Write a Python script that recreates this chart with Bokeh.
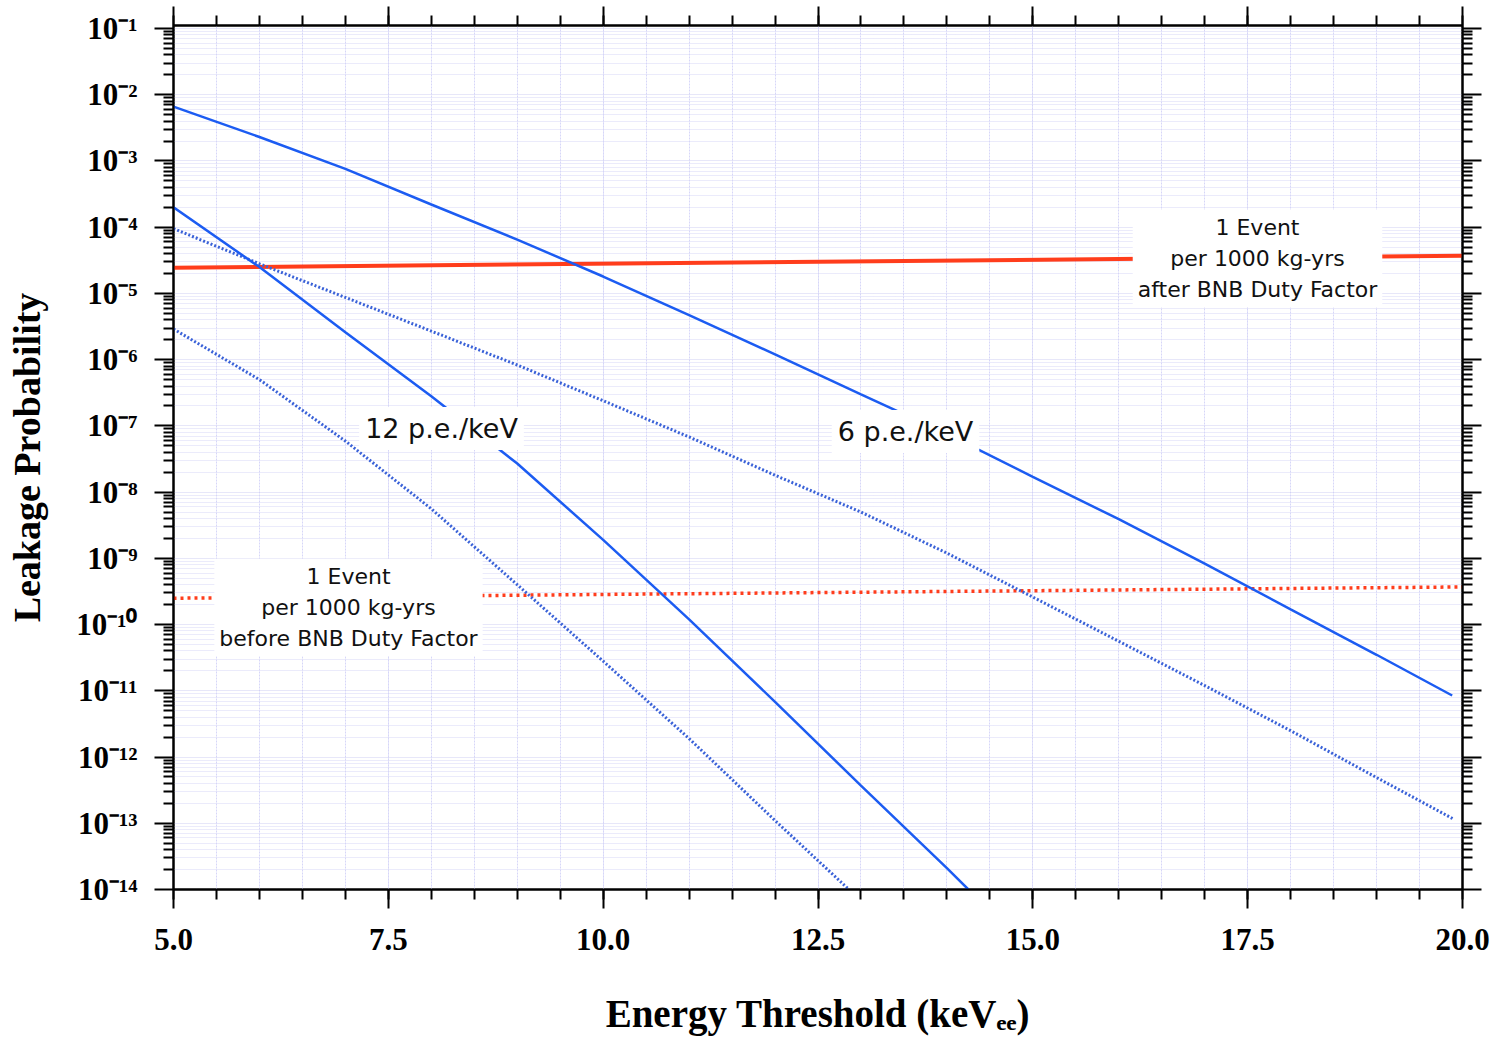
import math
from bokeh.plotting import figure
from bokeh.models import (Range1d, FixedTicker, SingleIntervalTicker, LinearAxis,
                          LogAxis, Label, PrintfTickFormatter, CustomJSTickFormatter)
from bokeh.embed import file_html
from bokeh.resources import INLINE

# ---------------- data ----------------
energy_6pe = [5, 6, 7, 8, 9, 10, 11, 12, 13, 14, 15, 16, 17, 18, 19, 19.88]
leak_6pe = [6.6e-3, 2.3e-3, 7.6e-4, 2.2e-4, 6.5e-5, 1.8e-5, 4.7e-6, 1.2e-6,
            3.0e-7, 7.6e-8, 1.7e-8, 3.9e-9, 8.3e-10, 1.7e-10, 3.5e-11, 8.5e-12]

energy_12pe = [5, 6, 7, 8, 9, 10, 11, 12, 13, 14, 14.25]
leak_12pe = [2.0e-4, 2.5e-5, 2.6e-6, 2.8e-7, 2.7e-8, 1.9e-9, 1.2e-10, 6.8e-12,
             3.7e-13, 2.1e-14, 1.0e-14]

energy_6pe_dot = [5, 6, 7, 8, 9, 10, 11, 12, 13, 14, 15, 16, 17, 18, 19, 19.9]
leak_6pe_dot = [9.5e-5, 2.8e-5, 8.7e-6, 2.7e-6, 8.3e-7, 2.4e-7, 6.8e-8, 1.8e-8,
                5.0e-9, 1.2e-9, 2.6e-10, 5.6e-11, 1.2e-11, 2.5e-12, 4.9e-13, 1.15e-13]

energy_12pe_dot = [5, 6, 7, 8, 9, 10, 11, 12, 12.86]
leak_12pe_dot = [2.9e-6, 5.0e-7, 5.9e-8, 5.6e-9, 4.0e-10, 2.8e-11, 1.9e-12, 1.1e-13, 1.0e-14]

energy_event = [5, 20]
event_after_duty = [2.45e-5, 3.7e-5]
event_before_duty = [2.5e-10, 3.7e-10]

decade_exponents = list(range(-14, 0))
x_tick_step = 2.5

curve_labels = ["12 p.e./keV", "6 p.e./keV"]
box_after = "1 Event\nper 1000 kg-yrs\nafter BNB Duty Factor"
box_before = "1 Event\nper 1000 kg-yrs\nbefore BNB Duty Factor"
x_title = "Energy Threshold (keV\u2091\u2091)"
y_title = "Leakage Probability"

# ---------------- layout ----------------
W, H = 1499, 1039
FX0, FX1, FY0, FY1 = 173, 1462, 25, 889
X0, X1 = 5.0, 20.0
Y0, Y1 = 1e-14, 0.111


def sx2x(px):
    return X0 + (px - FX0) * (X1 - X0) / (FX1 - FX0)


def sy2y(py):
    lo, hi = math.log10(Y0), math.log10(Y1)
    frac = (FY1 - py) / (FY1 - FY0)
    return 10 ** (lo + frac * (hi - lo))


p = figure(width=W, height=H, output_backend="svg", toolbar_location=None,
           y_axis_type="log", x_range=Range1d(X0, X1), y_range=Range1d(Y0, Y1),
           min_border_left=FX0, min_border_right=W - FX1,
           min_border_top=FY0, min_border_bottom=H - FY1)
p.background_fill_color = "white"
p.border_fill_color = "white"
p.outline_line_color = "black"
p.outline_line_width = 2

x_ticker = SingleIntervalTicker(interval=x_tick_step, num_minor_ticks=5)
y_ticker = FixedTicker(ticks=[10.0 ** n for n in decade_exponents],
                       minor_ticks=[k * 10.0 ** n for n in range(-14, -1) for k in range(2, 10)])


def style_axis(ax, hide_labels=True):
    ax.axis_line_width = 2
    ax.axis_line_color = "black"
    ax.major_tick_out = 19
    ax.major_tick_in = 0
    ax.minor_tick_out = 10
    ax.minor_tick_in = 0
    ax.major_tick_line_width = 2
    ax.minor_tick_line_width = 2
    ax.major_tick_line_color = "black"
    ax.minor_tick_line_color = "black"
    if hide_labels:
        ax.major_label_text_font_size = "0px"
        ax.major_label_text_color = None
        ax.major_label_standoff = 0


# bottom axis
xb = p.xaxis[0]
xb.ticker = x_ticker
style_axis(xb, hide_labels=False)
xb.formatter = PrintfTickFormatter(format="%.1f")
xb.major_label_text_font = "Liberation Serif"
xb.major_label_text_font_style = "bold"
xb.major_label_text_font_size = "31px"
xb.major_label_text_color = "black"
xb.major_label_standoff = 20
xb.axis_label = x_title
xb.axis_label_text_font = "Liberation Serif"
xb.axis_label_text_font_style = "bold"
xb.axis_label_text_font_size = "39px"
xb.axis_label_text_color = "black"
xb.axis_label_standoff = 39

# left axis with 10^n labels
yl = p.yaxis[0]
yl.ticker = y_ticker
style_axis(yl, hide_labels=False)
yl.formatter = CustomJSTickFormatter(code="""
const sup = {'-': '\u207b', '0': '\u2070', '1': '\u00b9', '2': '\u00b2', '3': '\u00b3',
             '4': '\u2074', '5': '\u2075', '6': '\u2076', '7': '\u2077', '8': '\u2078', '9': '\u2079'};
const n = Math.round(Math.log10(tick));
return '10' + String(n).split('').map(c => sup[c]).join('');
""")
yl.major_label_text_font = "Liberation Serif"
yl.major_label_text_font_style = "bold"
yl.major_label_text_font_size = "31px"
yl.major_label_text_color = "black"
yl.major_label_standoff = 17
yl.axis_label = y_title
yl.axis_label_text_font = "Liberation Serif"
yl.axis_label_text_font_style = "bold"
yl.axis_label_text_font_size = "38px"
yl.axis_label_text_color = "black"
yl.axis_label_standoff = 25

# top + right axes
xt = LinearAxis(ticker=x_ticker)
style_axis(xt)
p.add_layout(xt, "above")
yr = LogAxis(ticker=y_ticker)
style_axis(yr)
p.add_layout(yr, "right")

# grids
p.xgrid.ticker = x_ticker
p.xgrid.grid_line_color = "#d6d6f8"
p.xgrid.minor_grid_line_color = "#d6d6f8"
p.xgrid.grid_line_dash = "2 1"
p.xgrid.minor_grid_line_dash = "2 1"
p.ygrid.ticker = y_ticker
p.ygrid.grid_line_color = "#cfcff2"
p.ygrid.minor_grid_line_color = "#d6d6f6"
p.ygrid.grid_line_dash = "1 1"
p.ygrid.minor_grid_line_dash = "1 1"

# lines
BLUE = "#1c5cf2"
BLUE_DOT = "#3a62d8"
RED = "#ff3d1c"
p.line(energy_event, event_after_duty, line_color=RED, line_width=4)
p.line(energy_event, event_before_duty, line_color=RED, line_width=3.5, line_dash="3 4")
p.line(energy_6pe_dot, leak_6pe_dot, line_color=BLUE_DOT, line_width=3, line_dash="2 2")
p.line(energy_12pe_dot, leak_12pe_dot, line_color=BLUE_DOT, line_width=3, line_dash="2 2")
p.line(energy_6pe, leak_6pe, line_color=BLUE, line_width=2.5)
p.line(energy_12pe, leak_12pe, line_color=BLUE, line_width=2.5)


# in-plot annotations
def box_label(text, px, py, size, lh=1.2, pad=6):
    return Label(x=sx2x(px), y=sy2y(py), text=text, text_align="center",
                 text_baseline="middle", text_font="DejaVu Sans",
                 text_font_size=f"{size}px", text_color="#111111",
                 text_line_height=lh, background_fill_color="white",
                 background_fill_alpha=1.0, padding=pad)


p.add_layout(box_label(curve_labels[0], 441, 428, 27))
p.add_layout(box_label(curve_labels[1], 905, 431, 27))
p.add_layout(box_label(box_after, 1257, 258, 22, lh=1.25, pad=5))
p.add_layout(box_label(box_before, 348, 607, 22, lh=1.25, pad=5))

open("out.html", "w").write(file_html(p, INLINE))
